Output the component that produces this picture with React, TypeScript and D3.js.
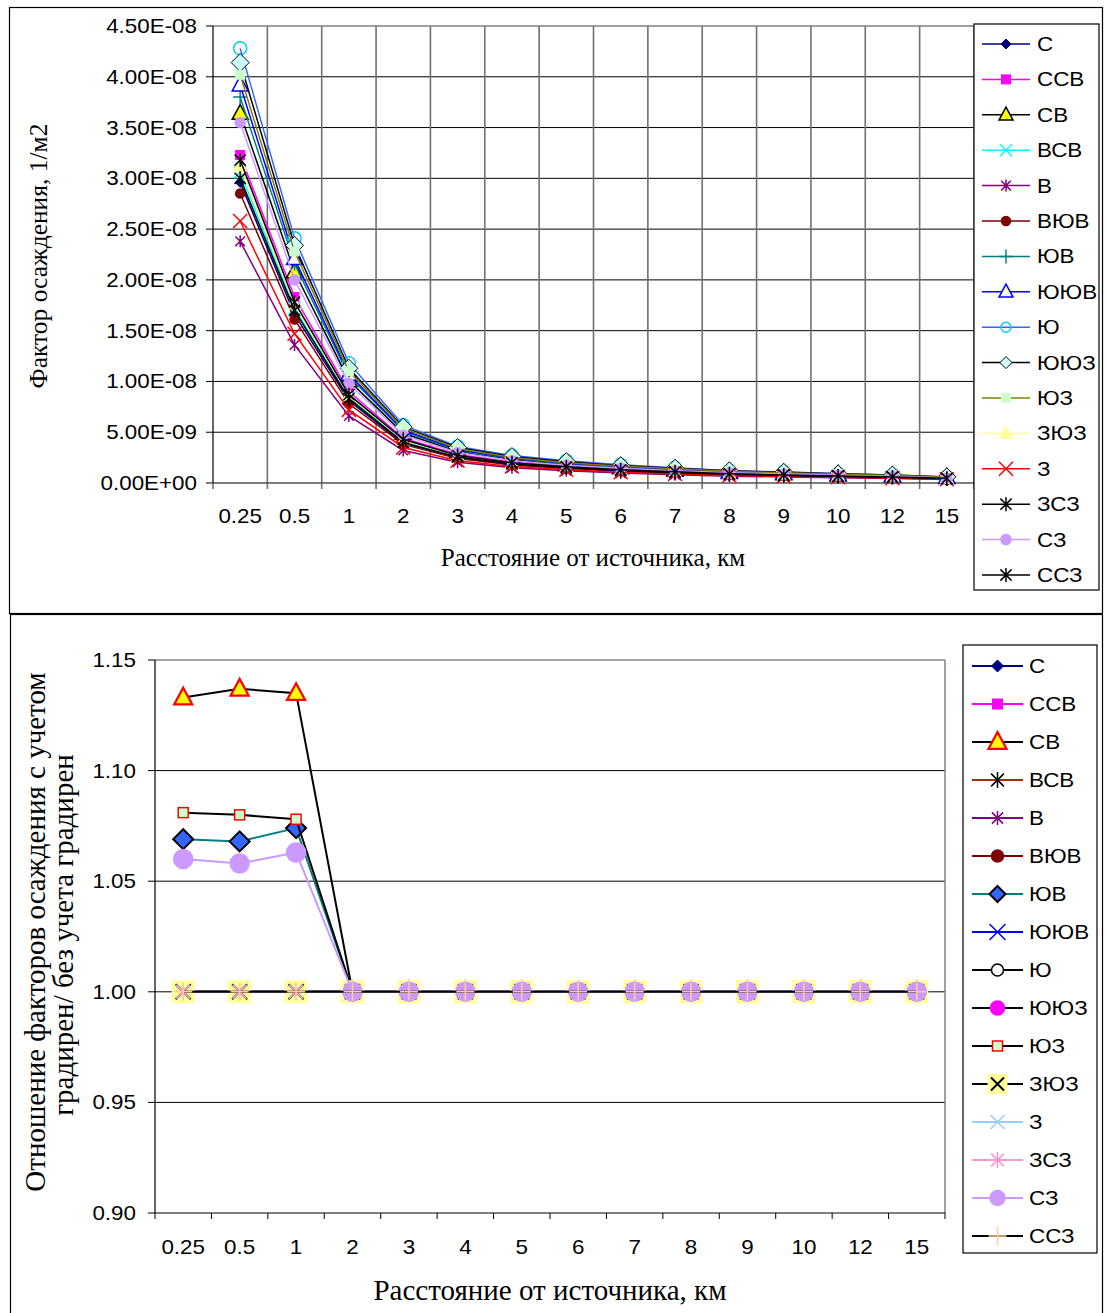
import React from "react";
import * as d3 from "d3";

// ---------- DATA ----------
const categories = ["0.25", "0.5", "1", "2", "3", "4", "5", "6", "7", "8", "9", "10", "12", "15"];
const seriesNames = ["С", "ССВ", "СВ", "ВСВ", "В", "ВЮВ", "ЮВ", "ЮЮВ", "Ю", "ЮЮЗ", "ЮЗ", "ЗЮЗ", "З", "ЗСЗ", "СЗ", "ССЗ"];

// top chart: deposition factor, in units of 1e-8 1/m2
const top_C = [2.96, 1.66, 0.81, 0.39, 0.25, 0.185, 0.147, 0.12, 0.1, 0.083, 0.073, 0.064, 0.055, 0.042];
const top_CCB = [3.23, 1.83, 0.9, 0.44, 0.28, 0.205, 0.165, 0.135, 0.112, 0.094, 0.083, 0.072, 0.062, 0.048];
const top_CB = [3.64, 2.08, 1.01, 0.49, 0.31, 0.23, 0.18, 0.15, 0.125, 0.104, 0.092, 0.08, 0.068, 0.053];
const top_BCB = [3.06, 1.72, 0.84, 0.41, 0.26, 0.19, 0.153, 0.125, 0.104, 0.086, 0.076, 0.066, 0.057, 0.044];
const top_B = [2.38, 1.36, 0.66, 0.32, 0.205, 0.15, 0.12, 0.098, 0.081, 0.067, 0.06, 0.052, 0.044, 0.034];
const top_BYuB = [2.85, 1.61, 0.78, 0.38, 0.24, 0.178, 0.142, 0.116, 0.096, 0.08, 0.071, 0.062, 0.053, 0.041];
const top_YuB = [3.8, 2.16, 1.05, 0.51, 0.32, 0.24, 0.19, 0.155, 0.13, 0.108, 0.095, 0.082, 0.07, 0.055];
const top_YuYuB = [3.92, 2.21, 1.07, 0.52, 0.33, 0.245, 0.195, 0.16, 0.135, 0.11, 0.098, 0.085, 0.073, 0.056];
const top_Yu = [4.28, 2.41, 1.18, 0.57, 0.36, 0.27, 0.22, 0.18, 0.15, 0.12, 0.11, 0.09, 0.08, 0.06];
const top_YuYuZ = [4.14, 2.34, 1.13, 0.55, 0.35, 0.26, 0.21, 0.17, 0.145, 0.12, 0.105, 0.09, 0.078, 0.06];
const top_YuZ = [4.02, 2.28, 1.1, 0.54, 0.34, 0.25, 0.2, 0.165, 0.14, 0.115, 0.1, 0.087, 0.075, 0.058];
const top_ZYuZ = [3.12, 1.76, 0.86, 0.42, 0.265, 0.195, 0.157, 0.128, 0.107, 0.088, 0.078, 0.068, 0.058, 0.045];
const top_Z = [2.58, 1.47, 0.72, 0.35, 0.22, 0.163, 0.13, 0.106, 0.088, 0.073, 0.065, 0.056, 0.048, 0.037];
const top_ZCZ = [3.0, 1.7, 0.83, 0.4, 0.255, 0.188, 0.15, 0.122, 0.102, 0.085, 0.075, 0.065, 0.056, 0.043];
const top_CZ = [3.55, 2.0, 0.98, 0.47, 0.3, 0.22, 0.175, 0.145, 0.12, 0.1, 0.088, 0.077, 0.066, 0.05];
const top_CCZ = [3.18, 1.78, 0.87, 0.43, 0.27, 0.2, 0.16, 0.13, 0.11, 0.09, 0.08, 0.07, 0.06, 0.046];
const topSeries = [top_C, top_CCB, top_CB, top_BCB, top_B, top_BYuB, top_YuB, top_YuYuB, top_Yu, top_YuYuZ, top_YuZ, top_ZYuZ, top_Z, top_ZCZ, top_CZ, top_CCZ];
const topTickValues = [0, 0.5, 1, 1.5, 2, 2.5, 3, 3.5, 4, 4.5];
const topTickLabels = ["0.00E+00", "5.00E-09", "1.00E-08", "1.50E-08", "2.00E-08", "2.50E-08", "3.00E-08", "3.50E-08", "4.00E-08", "4.50E-08"];

// bottom chart: ratio with / without cooling towers
const flat = [1, 1, 1, 1, 1, 1, 1, 1, 1, 1, 1, 1, 1, 1];
const ratio_CB = [1.133, 1.137, 1.135, 1, 1, 1, 1, 1, 1, 1, 1, 1, 1, 1];
const ratio_YuB = [1.069, 1.068, 1.074, 1, 1, 1, 1, 1, 1, 1, 1, 1, 1, 1];
const ratio_YuZ = [1.081, 1.080, 1.078, 1, 1, 1, 1, 1, 1, 1, 1, 1, 1, 1];
const ratio_CZ = [1.060, 1.058, 1.063, 1, 1, 1, 1, 1, 1, 1, 1, 1, 1, 1];
const bottomSeries = [flat, flat, ratio_CB, flat, flat, flat, ratio_YuB, flat, flat, flat, ratio_YuZ, flat, flat, flat, ratio_CZ, flat];
const bottomTickValues = [0.9, 0.95, 1.0, 1.05, 1.1, 1.15];
const bottomTickLabels = ["0.90", "0.95", "1.00", "1.05", "1.10", "1.15"];

const xTitle = "Расстояние от источника, км";
const topYTitle = "Фактор осаждения, 1/м2";
const bottomYTitle1 = "Отношение факторов осаждения с учетом";
const bottomYTitle2 = "градирен/ без учета градирен";

// ---------- STYLES ----------
type St = { line: string; m: string; fill: string; stroke: string; s: number; ls?: number; sw?: number };
const topStyles: St[] = [
  { line: "#000080", m: "diamond", fill: "#000080", stroke: "#000080", s: 5 },
  { line: "#FF00FF", m: "square", fill: "#FF00FF", stroke: "#FF00FF", s: 4.5 },
  { line: "#000000", m: "triangle", fill: "#FFFF00", stroke: "#000000", s: 8, ls: 7 },
  { line: "#00FFFF", m: "x", fill: "none", stroke: "#00FFFF", s: 6 },
  { line: "#800080", m: "star", fill: "none", stroke: "#800080", s: 6 },
  { line: "#800000", m: "circle", fill: "#800000", stroke: "#800000", s: 4.5 },
  { line: "#008080", m: "plus", fill: "none", stroke: "#008080", s: 7 },
  { line: "#0000FF", m: "triangle", fill: "#FFFFFF", stroke: "#0000FF", s: 8, ls: 7 },
  { line: "#3366FF", m: "circle", fill: "none", stroke: "#00CCFF", s: 6.5, ls: 5 },
  { line: "#000000", m: "diamond", fill: "#CCFFFF", stroke: "#000000", s: 9, ls: 6 },
  { line: "#808000", m: "square", fill: "#CCFFCC", stroke: "none", s: 5 },
  { line: "#FFFF99", m: "triangle", fill: "#FFFF99", stroke: "#FFFF99", s: 6 },
  { line: "#FF0000", m: "x", fill: "none", stroke: "#FF0000", s: 7 },
  { line: "#000000", m: "star", fill: "none", stroke: "#000000", s: 7 },
  { line: "#CC99FF", m: "circle", fill: "#CC99FF", stroke: "#CC99FF", s: 5 },
  { line: "#000000", m: "star", fill: "none", stroke: "#000000", s: 7 },
];
const bottomStyles: St[] = [
  { line: "#000080", m: "diamond", fill: "#000080", stroke: "#000080", s: 6 },
  { line: "#FF00FF", m: "square", fill: "#FF00FF", stroke: "#FF00FF", s: 5 },
  { line: "#000000", m: "triangle", fill: "#FFFF00", stroke: "#FF0000", s: 9, sw: 1.5 },
  { line: "#993300", m: "star", fill: "none", stroke: "#000000", s: 8 },
  { line: "#800080", m: "star", fill: "none", stroke: "#800080", s: 7 },
  { line: "#800000", m: "circle", fill: "#800000", stroke: "#800000", s: 6 },
  { line: "#008080", m: "diamond", fill: "#3366FF", stroke: "#000000", s: 10, ls: 8, sw: 2 },
  { line: "#0000FF", m: "x", fill: "none", stroke: "#0000FF", s: 8 },
  { line: "#000000", m: "circle", fill: "#FFFFFF", stroke: "#000000", s: 6 },
  { line: "#000000", m: "circle", fill: "#FF00FF", stroke: "#FF00FF", s: 7 },
  { line: "#000000", m: "square", fill: "#CCFFCC", stroke: "#FF0000", s: 5, sw: 1.5 },
  { line: "#000000", m: "xsquare", fill: "#FFFF99", stroke: "#000000", s: 11.5, ls: 10 },
  { line: "#99CCFF", m: "x", fill: "none", stroke: "#99CCFF", s: 7 },
  { line: "#FF99CC", m: "star", fill: "none", stroke: "#FF99CC", s: 8 },
  { line: "#CC99FF", m: "circle", fill: "#CC99FF", stroke: "#CC99FF", s: 9.5, ls: 7.5 },
  { line: "#000000", m: "plus", fill: "none", stroke: "#FFCC99", s: 9 },
];

const SANS = "'Liberation Sans', Arial, sans-serif";
const SERIF = "'Liberation Serif', 'Times New Roman', serif";
const SX = 1.12;
const TICK_FS = 20;

function Marker({ type, x, y, s, fill, stroke, sw = 1 }: any) {
  switch (type) {
    case "diamond":
      return <path d={`M${x},${y - s}L${x + s},${y}L${x},${y + s}L${x - s},${y}Z`} fill={fill} stroke={stroke} strokeWidth={sw} />;
    case "square":
      return <rect x={x - s} y={y - s} width={2 * s} height={2 * s} fill={fill} stroke={stroke} strokeWidth={sw} />;
    case "triangle":
      return <path d={`M${x},${y - s * 1.1}L${x + s},${y + s * 0.75}L${x - s},${y + s * 0.75}Z`} fill={fill} stroke={stroke} strokeWidth={sw * 1.5} />;
    case "circle":
      return <circle cx={x} cy={y} r={s} fill={fill} stroke={stroke} strokeWidth={stroke === "none" ? 0 : 1.5} />;
    case "x":
      return <path d={`M${x - s},${y - s}L${x + s},${y + s}M${x - s},${y + s}L${x + s},${y - s}`} stroke={stroke} strokeWidth={1.5} fill="none" />;
    case "star":
      return <path d={`M${x - s * 0.8},${y - s * 0.8}L${x + s * 0.8},${y + s * 0.8}M${x - s * 0.8},${y + s * 0.8}L${x + s * 0.8},${y - s * 0.8}M${x},${y - s}L${x},${y + s}`} stroke={stroke} strokeWidth={1.5} fill="none" />;
    case "plus":
      return <path d={`M${x - s},${y}L${x + s},${y}M${x},${y - s}L${x},${y + s}`} stroke={stroke} strokeWidth={1.5} fill="none" />;
    case "xsquare":
      return (
        <g>
          <rect x={x - s} y={y - s} width={2 * s} height={2 * s} fill={fill} />
          <path d={`M${x - s * 0.65},${y - s * 0.65}L${x + s * 0.65},${y + s * 0.65}M${x - s * 0.65},${y + s * 0.65}L${x + s * 0.65},${y - s * 0.65}`} stroke={stroke} strokeWidth={2} />
        </g>
      );
  }
  return null;
}

function HText({ x, y, anchor = "start", size, family = SANS, sx = SX, children }: any) {
  return (
    <text transform={`translate(${x},${y}) scale(${sx},1)`} textAnchor={anchor} fontSize={size} fontFamily={family} dy="0.35em" fill="#000">
      {children}
    </text>
  );
}

function Chart({ frame, plot, yDomain, tickValues, tickLabels, series, styles, vGrid, legend, xTitleY, xTitleX, xTitleSize, yTitles, yTitleSize, labelRight, xLabelY, lineW }: any) {
  const x = d3.scalePoint<string>().domain(categories).range([plot.l, plot.r]).padding(0.5);
  const y = d3.scaleLinear().domain(yDomain).range([plot.b, plot.t]);
  const step = x.step();
  const line = d3.line<number>().x((_, i) => x(categories[i])!).y((d) => y(d));
  const bounds = d3.range(categories.length + 1).map((k) => plot.l + k * step);
  return (
    <g>
      <rect x={frame.x} y={frame.y} width={frame.w} height={frame.h} fill="#fff" stroke="#000" strokeWidth={1.2} />
      {tickValues.map((v: number, i: number) =>
        i > 0 && i < tickValues.length - 1 ? <line key={"h" + i} x1={plot.l} x2={plot.r} y1={y(v)} y2={y(v)} stroke="#000" strokeWidth={1} /> : null
      )}
      {vGrid && bounds.slice(1, -1).map((bx, i) => <line key={"v" + i} x1={bx} x2={bx} y1={plot.t} y2={plot.b} stroke="#707070" strokeWidth={1.6} />)}
      <line x1={plot.l} x2={plot.r} y1={plot.t} y2={plot.t} stroke="#808080" strokeWidth={1.5} />
      <line x1={plot.r} x2={plot.r} y1={plot.t} y2={plot.b} stroke="#808080" strokeWidth={1.5} />
      <line x1={plot.l} x2={plot.l} y1={plot.t} y2={plot.b} stroke="#000" strokeWidth={1.2} />
      <line x1={plot.l} x2={plot.r} y1={plot.b} y2={plot.b} stroke="#000" strokeWidth={1.2} />
      {tickValues.map((v: number, i: number) => (
        <g key={"yt" + i}>
          <line x1={plot.l - 7} x2={plot.l} y1={y(v)} y2={y(v)} stroke="#000" />
          <HText x={labelRight} y={y(v)} anchor="end" size={TICK_FS}>{tickLabels[i]}</HText>
        </g>
      ))}
      {bounds.map((bx, i) => <line key={"xt" + i} x1={bx} x2={bx} y1={plot.b} y2={plot.b + 6} stroke={vGrid ? "#707070" : "#000"} strokeWidth={vGrid ? 1.6 : 1} />)}
      {categories.map((c) => (
        <HText key={"xl" + c} x={x(c)} y={xLabelY} anchor="middle" size={TICK_FS}>{c}</HText>
      ))}
      {series.map((vals: number[], si: number) => {
        const st = styles[si];
        return (
          <g key={"s" + si}>
            <path d={line(vals) || ""} fill="none" stroke={st.line} strokeWidth={lineW} />
            {vals.map((v, i) => (
              <Marker key={i} type={st.m} x={x(categories[i])} y={y(v)} s={st.s} fill={st.fill} stroke={st.stroke} sw={st.sw} />
            ))}
          </g>
        );
      })}
      <HText x={xTitleX} y={xTitleY} anchor="middle" size={xTitleSize} family={SERIF} sx={1}>{xTitle}</HText>
      {yTitles.map((t: any, i: number) => (
        <text key={"ytt" + i} transform={`translate(${t.x},${t.y}) rotate(-90)`} textAnchor="middle" fontSize={yTitleSize} fontFamily={SERIF} dy="0.35em">{t.text}</text>
      ))}
      <rect x={legend.x} y={legend.y} width={legend.w} height={legend.h} fill="#fff" stroke="#000" strokeWidth={1.2} />
      {seriesNames.map((n, i) => {
        const st = styles[i];
        const ly = legend.y0 + i * legend.dy;
        return (
          <g key={"lg" + i}>
            <line x1={legend.l1} x2={legend.l2} y1={ly} y2={ly} stroke={st.line} strokeWidth={lineW} />
            <Marker type={st.m} x={(legend.l1 + legend.l2) / 2} y={ly} s={st.ls ?? st.s} fill={st.fill} stroke={st.stroke} sw={st.sw} />
            <HText x={legend.tx} y={ly} size={TICK_FS}>{n}</HText>
          </g>
        );
      })}
    </g>
  );
}

export default function App() {
  return (
    <svg width={1108} height={1313} style={{ position: "absolute", left: 0, top: 0, background: "#fff" }}>
      <rect x={0} y={0} width={1108} height={1313} fill="#fff" />
      <Chart
        frame={{ x: 9.5, y: 7.5, w: 1093, h: 606 }}
        plot={{ l: 213, r: 974, t: 26, b: 483 }}
        yDomain={[0, 4.5]}
        tickValues={topTickValues}
        tickLabels={topTickLabels}
        series={topSeries}
        styles={topStyles}
        vGrid={true}
        labelRight={197}
        xLabelY={516}
        lineW={1.5}
        xTitleX={593}
        xTitleY={557}
        xTitleSize={25}
        yTitles={[{ x: 38, y: 256, text: topYTitle }]}
        yTitleSize={25.5}
        legend={{ x: 974, y: 24, w: 125, h: 566, y0: 44, dy: 35.4, l1: 982, l2: 1030, tx: 1037 }}
      />
      <Chart
        frame={{ x: 10.5, y: 614.5, w: 1092, h: 710 }}
        plot={{ l: 155, r: 945, t: 660, b: 1213 }}
        yDomain={[0.9, 1.15]}
        tickValues={bottomTickValues}
        tickLabels={bottomTickLabels}
        series={bottomSeries}
        styles={bottomStyles}
        vGrid={false}
        labelRight={136}
        xLabelY={1247}
        lineW={2}
        xTitleX={550}
        xTitleY={1290}
        xTitleSize={29}
        yTitles={[
          { x: 35, y: 932, text: bottomYTitle1 },
          { x: 63, y: 935, text: bottomYTitle2 },
        ]}
        yTitleSize={29}
        legend={{ x: 963, y: 645, w: 134, h: 608, y0: 666, dy: 38, l1: 972, l2: 1023, tx: 1029 }}
      />
    </svg>
  );
}
